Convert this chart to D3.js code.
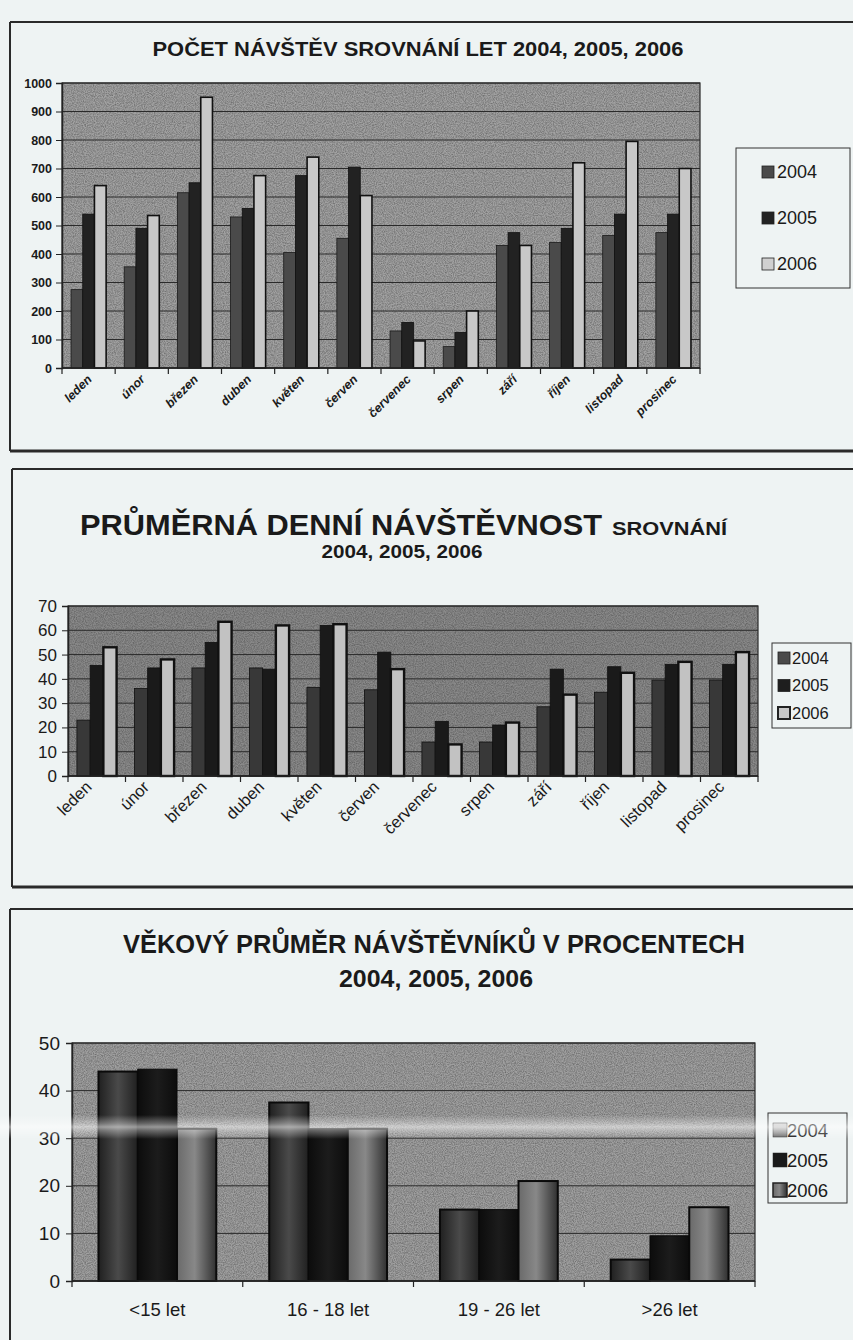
<!DOCTYPE html>
<html><head><meta charset="utf-8">
<script src="https://cdn.jsdelivr.net/npm/d3@7"></script>
<style>
html,body{margin:0;padding:0;background:#eef3f3;}
svg{display:block;}
text{font-family:"Liberation Sans",Arial,sans-serif;fill:#1a1a1a;}
</style></head><body>
<svg id="c" width="853" height="1340"></svg>
<script>
// ---------- DATA ----------
const months = ["leden","únor","březen","duben","květen","červen","červenec","srpen","září","říjen","listopad","prosinec"];
const years = ["2004","2005","2006"];
const visits2004 = [275,355,615,530,405,455,130,75,430,440,465,475];
const visits2005 = [540,490,650,560,675,705,160,125,475,490,540,540];
const visits2006 = [640,535,950,675,740,605,95,200,430,720,795,700];
const visitTicks = [0,100,200,300,400,500,600,700,800,900,1000];

const daily2004 = [23,36,44.5,44.5,36.5,35.5,14,14,28.5,34.5,39.5,39.5];
const daily2005 = [45.5,44.5,55,44,62,51,22.5,21,44,45,46,46];
const daily2006 = [53,48,63.5,62,62.5,44,13,22,33.5,42.5,47,51];
const dailyTicks = [0,10,20,30,40,50,60,70];

const ageGroups = ["<15 let","16 - 18 let","19 - 26 let",">26 let"];
const age2004 = [44,37.5,15,4.5];
const age2005 = [44.5,32,15,9.5];
const age2006 = [32,32,21,15.5];
const ageTicks = [0,10,20,30,40,50];

const svg = d3.select("#c");
const defs = svg.append("defs");

// grain texture
const f = defs.append("filter").attr("id","grain").attr("x",0).attr("y",0).attr("width","100%").attr("height","100%");
f.append("feTurbulence").attr("type","fractalNoise").attr("baseFrequency",0.9).attr("numOctaves",2).attr("seed",3).attr("result","n");
f.append("feColorMatrix").attr("in","n").attr("type","matrix")
  .attr("values","0 0 0 0 0  0 0 0 0 0  0 0 0 0 0  0 0 0 -1.6 1.1").attr("result","a");
f.append("feComposite").attr("in","SourceGraphic").attr("in2","a").attr("operator","in");

function hGrad(id, stops){
  const g = defs.append("linearGradient").attr("id",id).attr("x1","0%").attr("x2","100%").attr("y1","0%").attr("y2","0%");
  stops.forEach(s=>g.append("stop").attr("offset",s[0]).attr("stop-color",s[1]));
}
hGrad("g04",[["0%","#202020"],["50%","#4a4a4a"],["100%","#202020"]]);
hGrad("g05",[["0%","#0c0c0c"],["50%","#1c1c1c"],["100%","#0c0c0c"]]);
hGrad("g06",[["0%","#6a6a6a"],["45%","#888888"],["100%","#303030"]]);
const lg = defs.append("linearGradient").attr("id","lg04").attr("x1","0%").attr("x2","0%").attr("y1","0%").attr("y2","100%");
lg.append("stop").attr("offset","0%").attr("stop-color","#d8d8d8");
lg.append("stop").attr("offset","100%").attr("stop-color","#6a6a6a");

// ---------- panel frames ----------
function frame(x, y, bottom, thick){
  svg.append("line").attr("x1",x).attr("x2",853).attr("y1",y).attr("y2",y).attr("stroke","#2a2a2a").attr("stroke-width",2);
  svg.append("line").attr("x1",x).attr("x2",x).attr("y1",y).attr("y2",bottom).attr("stroke","#2a2a2a").attr("stroke-width",2);
  if(thick) svg.append("line").attr("x1",x).attr("x2",853).attr("y1",bottom).attr("y2",bottom).attr("stroke","#2a2a2a").attr("stroke-width",thick);
}
frame(10,22,451,3);
frame(12,469,887,3);
frame(10,909,1340,0);

// ---------- generic bar chart ----------
function barChart(o){
  const g = svg.append("g");
  const x0 = d3.scaleBand().domain(o.cats).range([o.left,o.right]).paddingInner(o.pad).paddingOuter(o.pad/2);
  const x1 = d3.scaleBand().domain(years).range([0,x0.bandwidth()]);
  const y = d3.scaleLinear().domain([0,d3.max(o.ticks)]).range([o.bottom,o.top]);
  // plot background
  g.append("rect").attr("x",o.left).attr("y",o.top).attr("width",o.right-o.left).attr("height",o.bottom-o.top).attr("fill",o.bg);
  g.append("rect").attr("x",o.left).attr("y",o.top).attr("width",o.right-o.left).attr("height",o.bottom-o.top)
    .attr("fill","#3a3a3a").attr("opacity",0.55).attr("filter","url(#grain)");
  // gridlines
  g.selectAll(".grid").data(o.ticks).join("line")
    .attr("x1",o.left).attr("x2",o.right).attr("y1",d=>y(d)).attr("y2",d=>y(d))
    .attr("stroke","#2a2a2a").attr("stroke-width",1);
  g.append("rect").attr("x",o.left).attr("y",o.top).attr("width",o.right-o.left).attr("height",o.bottom-o.top)
    .attr("fill","none").attr("stroke","#2a2a2a").attr("stroke-width",1.2);
  // bars
  o.cats.forEach((c,i)=>{
    o.series.forEach((s,k)=>{
      g.append("rect").attr("x",x0(c)+x1(years[k])).attr("y",y(s[i]))
        .attr("width",x1.bandwidth()).attr("height",o.bottom-y(s[i]))
        .attr("fill",o.fills[k]).attr("stroke",o.strokes[k]).attr("stroke-width",o.sw[k]);
    });
  });
  // y axis
  const ya = d3.axisLeft(y).tickValues(o.ticks).tickFormat(d3.format("d")).tickSize(6).tickPadding(o.yPad);
  const yg = g.append("g").attr("transform",`translate(${o.left},0)`).call(ya);
  yg.select(".domain").attr("stroke","#222").attr("stroke-width",1.5);
  yg.selectAll(".tick line").attr("stroke","#222");
  yg.selectAll("text").attr("font-size",o.yFont).attr("font-weight",o.yBold?"bold":"normal").attr("fill","#1a1a1a")
    .attr("font-family",'"Liberation Sans",Arial,sans-serif');
  // x axis: baseline and ticks at band boundaries
  g.append("line").attr("x1",o.left).attr("x2",o.right).attr("y1",o.bottom).attr("y2",o.bottom).attr("stroke","#222").attr("stroke-width",1.5);
  const bounds = o.cats.map(c=>x0(c)-x0.step()*o.pad/2).concat([o.right]);
  g.selectAll(".xt").data(bounds).join("line").attr("x1",d=>d).attr("x2",d=>d)
    .attr("y1",o.bottom).attr("y2",o.bottom+6).attr("stroke","#222").attr("stroke-width",1.2);
  // x labels
  const c45 = Math.SQRT1_2;
  o.cats.forEach(c=>{
    const cx = x0(c)+x0.bandwidth()/2;
    if(o.rotate){
      const tx = cx+o.xOff, ty = o.bottom+o.xDy;
      g.append("text").text(c).attr("font-size",o.xFont).attr("font-weight",o.xBold?"bold":"normal")
        .attr("text-anchor","end").attr("x",0).attr("y",0)
        .attr("font-style",o.xItalic?"italic":"normal")
        .attr("transform",`matrix(${c45},${-c45},${c45},${c45},${tx},${ty})`);
    } else {
      g.append("text").text(c).attr("font-size",o.xFont).attr("text-anchor","middle").attr("x",cx).attr("y",o.bottom+o.xDy);
    }
  });
  // legend
  const L = o.legend;
  g.append("rect").attr("x",L.x).attr("y",L.y).attr("width",L.w).attr("height",L.h).attr("fill","none").attr("stroke","#333").attr("stroke-width",1);
  years.forEach((yr,k)=>{
    const cy = L.y0 + k*L.dy;
    g.append("rect").attr("x",L.sx).attr("y",cy-L.s/2).attr("width",L.s).attr("height",L.s)
      .attr("fill",L.fills[k]).attr("stroke","#222").attr("stroke-width",L.ssw[k]);
    g.append("text").text(yr).attr("x",L.tx).attr("y",cy).attr("dy","0.36em").attr("font-size",L.font);
  });
}

// ---------- chart 1 ----------
svg.append("text").text("POČET NÁVŠTĚV SROVNÁNÍ LET 2004, 2005, 2006")
  .attr("x",418).attr("y",56).attr("text-anchor","middle").attr("font-size",20).attr("font-weight","bold")
  .attr("font-family",'"Liberation Sans Narrow","Arial Narrow","Liberation Sans",sans-serif')
  .attr("textLength",531).attr("lengthAdjust","spacingAndGlyphs");
barChart({cats:months, series:[visits2004,visits2005,visits2006], ticks:visitTicks,
  left:62,right:700,top:83,bottom:368,pad:0.34,bg:"#a2a2a2",
  fills:["#4a4a4a","#222222","#c8c8c8"],strokes:["#1a1a1a","#111","#111"],sw:[0.8,0.8,1.6],
  yFont:12.5,yBold:true,yPad:4,xFont:12.5,xBold:true,xItalic:true,rotate:true,xOff:4,xDy:12,
  legend:{x:736,y:148,w:114,h:140,y0:172,dy:46,sx:762,s:12,tx:777,font:18,
    fills:["#4a4a4a","#222222","#d0d0d0"],ssw:[0.8,0.8,0.8]}});

// ---------- chart 2 ----------
const t2 = svg.append("text").attr("x",80).attr("y",535).attr("font-weight","bold")
  .attr("font-family",'"Liberation Sans Narrow","Arial Narrow","Liberation Sans",sans-serif');
t2.append("tspan").text("PRŮMĚRNÁ DENNÍ NÁVŠTĚVNOST").attr("font-size",30).attr("textLength",522).attr("lengthAdjust","spacingAndGlyphs");
t2.append("tspan").text("SROVNÁNÍ").attr("x",612).attr("font-size",19).attr("textLength",115).attr("lengthAdjust","spacingAndGlyphs");
svg.append("text").text("2004, 2005, 2006").attr("x",402).attr("y",558).attr("text-anchor","middle")
  .attr("font-size",18).attr("font-weight","bold")
  .attr("font-family",'"Liberation Sans Narrow","Arial Narrow","Liberation Sans",sans-serif')
  .attr("textLength",161).attr("lengthAdjust","spacingAndGlyphs");
barChart({cats:months, series:[daily2004,daily2005,daily2006], ticks:dailyTicks,
  left:68,right:758,top:606,bottom:776,pad:0.31,bg:"#8a8a8a",
  fills:["#383838","#1a1a1a","#c2c2c2"],strokes:["#111","#111","#111"],sw:[0.8,0.8,2.4],
  yFont:17,yBold:false,yPad:5,xFont:16.5,xBold:false,xItalic:false,rotate:true,xOff:-4,xDy:12,
  legend:{x:772,y:643,w:79,h:85,y0:658,dy:27.5,sx:778,s:12,tx:792,font:16.5,
    fills:["#4a4a4a","#1e1e1e","#c8c8c8"],ssw:[0.8,0.8,2]}});

// ---------- chart 3 ----------
svg.append("text").text("VĚKOVÝ PRŮMĚR NÁVŠTĚVNÍKŮ V PROCENTECH")
  .attr("x",434).attr("y",953).attr("text-anchor","middle").attr("font-size",26).attr("font-weight","bold")
  .attr("font-family",'"Liberation Sans Narrow","Arial Narrow","Liberation Sans",sans-serif')
  .attr("textLength",622).attr("lengthAdjust","spacingAndGlyphs");
svg.append("text").text("2004, 2005, 2006")
  .attr("x",436).attr("y",987).attr("text-anchor","middle").attr("font-size",24).attr("font-weight","bold")
  .attr("font-family",'"Liberation Sans Narrow","Arial Narrow","Liberation Sans",sans-serif')
  .attr("textLength",194).attr("lengthAdjust","spacingAndGlyphs");
barChart({cats:ageGroups, series:[age2004,age2005,age2006], ticks:ageTicks,
  left:72,right:755,top:1043,bottom:1281,pad:0.31,bg:"#a0a0a0",
  fills:["url(#g04)","url(#g05)","url(#g06)"],strokes:["#0a0a0a","#0a0a0a","#0a0a0a"],sw:[2,1,2],
  yFont:19,yBold:false,yPad:6,xFont:18.5,xBold:false,rotate:false,xDy:35,
  legend:{x:768,y:1113,w:79,h:90,y0:1130,dy:30,sx:773,s:14,tx:787,font:18.5,
    fills:["url(#lg04)","#1a1a1a","url(#g06)"],ssw:[0.5,0.5,1.5]}});

// scanner streak across the third chart
const sg = defs.append("linearGradient").attr("id","streak").attr("x1","0%").attr("x2","0%").attr("y1","0%").attr("y2","100%");
[["0%",0],["35%",0.35],["50%",0.55],["65%",0.35],["100%",0]].forEach(s=>sg.append("stop").attr("offset",s[0]).attr("stop-color","#ffffff").attr("stop-opacity",s[1]));
svg.append("rect").attr("x",0).attr("y",1115).attr("width",853).attr("height",24).attr("fill","url(#streak)");
</script></body></html>
